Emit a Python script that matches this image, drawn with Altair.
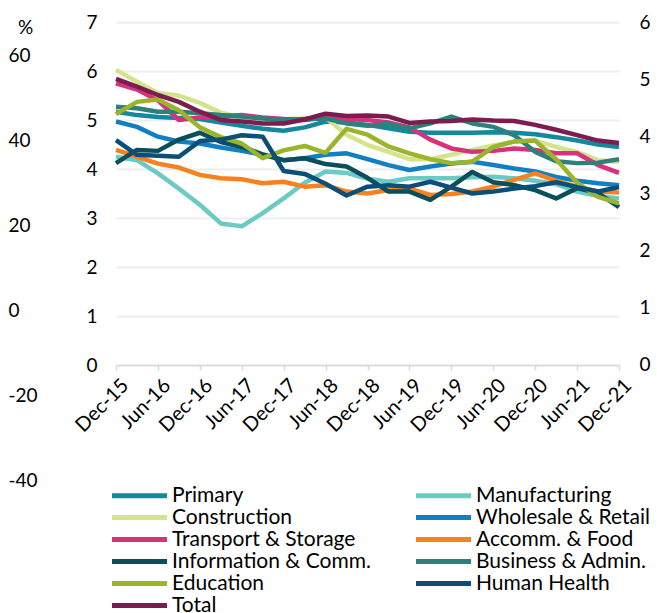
import altair as alt
import pandas as pd

quarters = ["Dec-15", "Mar-16", "Jun-16", "Sep-16", "Dec-16", "Mar-17", "Jun-17", "Sep-17",
            "Dec-17", "Mar-18", "Jun-18", "Sep-18", "Dec-18", "Mar-19", "Jun-19", "Sep-19",
            "Dec-19", "Mar-20", "Jun-20", "Sep-20", "Dec-20", "Mar-21", "Jun-21", "Sep-21", "Dec-21"]
tick_labels = ["Dec-15", "Jun-16", "Dec-16", "Jun-17", "Dec-17", "Jun-18", "Dec-18",
               "Jun-19", "Dec-19", "Jun-20", "Dec-20", "Jun-21", "Dec-21"]

primary = [5.17, 5.10, 5.06, 5.04, 5.02, 4.95, 4.88, 4.82, 4.78, 4.85, 4.97, 4.95, 4.90,
           4.83, 4.76, 4.74, 4.74, 4.74, 4.75, 4.74, 4.71, 4.65, 4.58, 4.50, 4.45]
manufacturing = [4.25, 4.18, 3.91, 3.60, 3.27, 2.89, 2.83, 3.10, 3.40, 3.72, 3.95, 3.92, 3.80,
                 3.74, 3.81, 3.81, 3.81, 3.83, 3.84, 3.81, 3.76, 3.69, 3.54, 3.45, 3.40]
construction = [6.02, 5.78, 5.55, 5.50, 5.35, 5.15, 5.05, 5.04, 5.02, 5.03, 5.05, 4.70, 4.49,
                4.35, 4.20, 4.20, 4.29, 4.39, 4.48, 4.56, 4.58, 4.45, 4.35, 4.18, 4.15]
wholesale = [4.97, 4.86, 4.66, 4.56, 4.52, 4.44, 4.37, 4.29, 4.18, 4.22, 4.29, 4.32, 4.20,
             4.08, 3.98, 4.05, 4.11, 4.15, 4.08, 4.01, 3.95, 3.84, 3.76, 3.71, 3.67]
transport = [5.75, 5.62, 5.40, 5.00, 5.05, 5.07, 5.10, 5.05, 5.02, 5.00, 5.05, 5.02, 5.00,
             4.95, 4.85, 4.60, 4.42, 4.35, 4.37, 4.42, 4.39, 4.32, 4.32, 4.08, 3.92]
accomm = [4.39, 4.25, 4.11, 4.03, 3.88, 3.81, 3.79, 3.71, 3.74, 3.64, 3.67, 3.54, 3.50,
          3.57, 3.60, 3.47, 3.49, 3.54, 3.64, 3.78, 3.91, 3.76, 3.64, 3.54, 3.52]
info = [4.12, 4.39, 4.37, 4.60, 4.74, 4.55, 4.45, 4.30, 4.18, 4.22, 4.10, 4.05, 3.82,
        3.54, 3.54, 3.37, 3.64, 3.94, 3.73, 3.67, 3.57, 3.40, 3.61, 3.51, 3.22]
business = [5.27, 5.24, 5.17, 5.17, 5.14, 5.10, 5.07, 5.03, 5.00, 5.02, 5.03, 4.93, 4.88,
            4.92, 4.83, 4.93, 5.07, 4.93, 4.86, 4.69, 4.35, 4.16, 4.12, 4.13, 4.20]
education = [5.12, 5.37, 5.42, 5.20, 4.85, 4.65, 4.52, 4.22, 4.38, 4.47, 4.33, 4.82, 4.70,
             4.46, 4.32, 4.20, 4.12, 4.15, 4.45, 4.56, 4.58, 4.20, 3.72, 3.43, 3.30]
health = [4.59, 4.29, 4.27, 4.25, 4.57, 4.60, 4.69, 4.66, 3.96, 3.90, 3.70, 3.46, 3.64,
          3.67, 3.64, 3.74, 3.62, 3.50, 3.54, 3.60, 3.65, 3.73, 3.63, 3.54, 3.63]
total = [5.84, 5.68, 5.51, 5.37, 5.17, 5.00, 4.97, 4.93, 4.93, 5.01, 5.13, 5.08, 5.09,
         5.07, 4.94, 4.97, 4.98, 5.01, 4.99, 4.98, 4.90, 4.80, 4.69, 4.58, 4.53]

series_names = ["Primary", "Manufacturing", "Construction", "Wholesale & Retail",
                "Transport & Storage", "Accomm. & Food", "Information & Comm.",
                "Business & Admin.", "Education", "Human Health", "Total"]
series_values = [primary, manufacturing, construction, wholesale, transport, accomm,
                 info, business, education, health, total]
colors = ["#13889f", "#6ccac4", "#d5e48c", "#1180c3", "#d7337b", "#f58220",
          "#0b4e5c", "#2e807b", "#9ab52b", "#0b4f78", "#7c1c4f"]

left_ticks = [0, 1, 2, 3, 4, 5, 6, 7]
right_ticks = [0, 1, 2, 3, 4, 5, 6]
pct_ticks = [-40, -20, 0, 20, 40, 60]

rows = []
for name, vals in zip(series_names, series_values):
    for q, v in zip(quarters, vals):
        rows.append({"quarter": q, "series": name, "value": v})
df = pd.DataFrame(rows)

FONT = "Lato"
FS = 19

lines = alt.Chart(df).mark_line(strokeWidth=4.5, strokeJoin="round").encode(
    x=alt.X("quarter:N", sort=quarters,
            scale=alt.Scale(type="point", padding=0),
            axis=alt.Axis(values=tick_labels, labelAngle=-45, offset=-116, title=None,
                          domainColor="#d9d9d9", domainWidth=1.5, tickColor="#d9d9d9",
                          tickSize=5, tickWidth=1.5, labelFont=FONT, labelFontSize=20,
                          labelColor="black", labelPadding=5, labelOffset=2, grid=False)),
    y=alt.Y("value:Q", scale=alt.Scale(domain=[-2.367, 7], nice=False, zero=False),
            axis=alt.Axis(values=left_ticks, orient="left", title=None, grid=True,
                          gridColor="#eeeeee", gridWidth=2, domain=False, ticks=False,
                          tickSize=0, labelPadding=19, labelFont=FONT, labelFontSize=FS,
                          labelColor="black")),
    color=alt.Color("series:N", sort=series_names,
                    scale=alt.Scale(domain=series_names, range=colors),
                    legend=alt.Legend(title=None, orient="none", legendX=13, legendY=463,
                                      columns=2, direction="horizontal", padding=0,
                                      symbolType="M-5,0H5", symbolSize=121,
                                      symbolStrokeWidth=5, labelFont=FONT, labelFontSize=21,
                                      labelColor="black", labelOffset=22, labelLimit=0,
                                      rowPadding=0, columnPadding=35)),
)

right_axis = alt.Chart(pd.DataFrame({"r": right_ticks})).mark_point(opacity=0).encode(
    y=alt.Y("r:Q", scale=alt.Scale(domain=[-2.0292, 6], nice=False, zero=False),
            axis=alt.Axis(values=right_ticks, orient="right", title=None, grid=False,
                          domain=False, ticks=False, tickSize=0, labelPadding=20,
                          labelFont=FONT, labelFontSize=FS, labelColor="black"))
)

pct_axis = alt.Chart(pd.DataFrame({"p": pct_ticks})).mark_point(opacity=0).encode(
    y=alt.Y("p:Q", scale=alt.Scale(domain=[-40.12, 67.88], nice=False, zero=False),
            axis=alt.Axis(values=pct_ticks, orient="left", title="%", grid=False,
                          domain=False, ticks=False, tickSize=0, labelPadding=108,
                          labelAlign="left", labelExpr="'' + datum.value",
                          labelFont=FONT, labelFontSize=FS,
                          labelColor="black", titleAngle=0, titleX=-91, titleY=5,
                          titleAlign="center", titleBaseline="middle", titleFont=FONT,
                          titleFontSize=FS, titleFontWeight="normal", titleColor="black"))
)

chart = alt.layer(lines, right_axis, pct_axis).resolve_scale(y="independent").properties(
    width=503, height=459,
    autosize=alt.AutoSizeParams(type="none"),
    padding={"left": 116, "top": 22, "right": 38, "bottom": 132},
).configure_view(stroke=None)

chart.save("out.html", embed_options={"renderer": "svg", "actions": False})
